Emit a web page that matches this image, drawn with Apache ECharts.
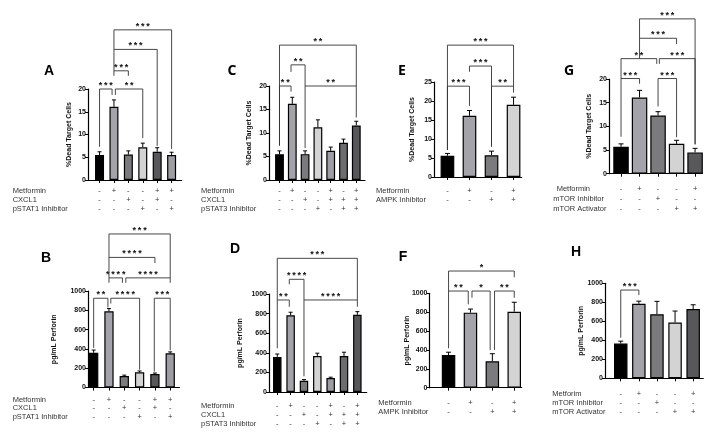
<!DOCTYPE html>
<html><head><meta charset="utf-8">
<script src="https://cdn.jsdelivr.net/npm/echarts@6/dist/echarts.min.js"></script>
<style>html,body{margin:0;padding:0;background:#fff}#c{width:728px;height:435px}</style>
</head><body><div id="c"></div>
<script>
// ---------------- DATA ----------------
const pctTicks = [0, 5, 10, 15, 20];
const pctTicksE = [0, 5, 10, 15, 20, 25];
const perfTicks = [0, 200, 400, 600, 800, 1000];
const pctName = '%Dead Target Cells';
const perfName = 'pg/mL Perforin';

const stat1Rows = ['Metformin', 'CXCL1', 'pSTAT1 Inhibitor'];
const stat1Signs = [['-','+','-','-','+','+'], ['-','-','+','-','+','-'], ['-','-','-','+','-','+']];
const stat3Rows = ['Metformin', 'CXCL1', 'pSTAT3 Inhibitor'];
const stat3Signs = [['-','+','-','-','+','-','+'], ['-','-','+','-','+','+','+'], ['-','-','-','+','-','+','+']];
const ampkRows = ['Metformin', 'AMPK Inhibitor'];
const ampkSigns = [['-','+','-','+'], ['-','-','+','+']];
const mtorRowsG = ['Metformin', 'mTOR Inhibitor', 'mTOR Activator'];
const mtorRowsH = ['Metforim', 'mTOR Inhibitor', 'mTOR Activator'];
const mtorSigns = [['-','+','-','-','+'], ['-','-','+','-','-'], ['-','-','-','+','+']];

const A_values = [5.5, 16.1, 5.6, 7.2, 6.2, 5.5];
const A_errors = [0.7, 1.5, 0.8, 0.9, 0.9, 0.6];
const B_values = [360, 790, 118, 157, 140, 354];
const B_errors = [28, 28, 10, 14, 10, 15];
const C_values = [5.5, 16.2, 5.5, 11.2, 6.2, 7.9, 11.6];
const C_errors = [0.7, 1.4, 0.7, 1.6, 0.8, 0.8, 0.9];
const D_values = [358, 782, 115, 368, 143, 368, 788];
const D_errors = [30, 32, 12, 28, 8, 38, 32];
const E_values = [5.6, 16.1, 5.7, 19.0];
const E_errors = [0.6, 1.4, 1.1, 2.0];
const F_values = [346, 795, 280, 805];
const F_errors = [30, 38, 80, 100];
const G_values = [5.7, 16.1, 12.3, 6.3, 4.5];
const G_errors = [0.6, 1.5, 0.8, 0.75, 0.85];
const H_values = [366, 784, 675, 588, 729];
const H_errors = [25, 28, 135, 120, 45];

// significance brackets: [from, to, level, leftFoot, rightFoot, label]
const A_brackets = [[0,0.87,20,7.3,18.7,'***'],[1.1,3,20,18.7,9.2,'**'],[1,2,24,22.9,22.9,'***'],[1,4,28.7,24,7.5,'***'],[1,5,33,28.7,6.8,'***']];
const B_brackets = [[0,0.93,925,410,830,'**'],[1.12,3,925,870,185,'****'],[3.96,5,925,165,385,'***'],[1,1.88,1136,1085,1085,'****'],[2.1,5,1136,1085,1085,'****'],[1,4,1348,1136,1290,'****'],[1,5,1591,1348,1136,'***']];
const C_brackets = [[0,0.9,20,7.3,18.8,'**'],[2,6,20,6.8,13.3,'**'],[0.9,2,24.5,23.0,20,'**'],[0,6,28.7,7.3,20,'**']];
const D_brackets = [[0,0.9,939,446,870,'**'],[2,6,939,160,870,'****'],[0.9,2,1150,1099,939,'****'],[0,6,1364,939,939,'***']];
const E_brackets = [[0,1,23.9,7.1,18.7,'***'],[2,3,23.9,8.0,22.2,'**'],[1,2,29.2,27.7,8.0,'***'],[0,3,34.7,7.1,23.9,'***']];
const F_brackets = [[0,0.9,1024,417,883,'**'],[1.07,1.9,1024,953,400,'*'],[2.1,3,1024,400,953,'**'],[0,3,1236,1024,1170,'*']];
const G_brackets = [[0,1,20.1,7.8,19,'***'],[2,3,20.1,14.2,7.7,'***'],[0,1.93,24.3,20.1,23.2,'**'],[2.07,4,24.3,23.2,6.2,'***'],[1,3,28.6,24.3,27.4,'***'],[1,4,32.7,28.6,6.2,'***']];
const H_brackets = [[0,1,929,427,876,'***']];

// ---------------- LAYOUT / STYLE ----------------
const FONT = '"Liberation Sans", Arial, Helvetica, sans-serif';
const K='#000000', G2='#a3a3a9', G3='#7b7b7d', G4='#d3d3d3', G5='#58585a', G6='#9d9da3', G7='#6c6c6e';

const panels = [
 {letter:'A', values:A_values, errors:A_errors, brackets:A_brackets, rows:stat1Rows, signs:stat1Signs, ticks:pctTicks, yName:pctName,
  colors:[K,G2,G3,G4,G5,G6], L:{left:88, top:89, width:93.7, height:91, xmin:-0.8, xmax:5.7, barW:9, cap:4, lh:9.3, margin:6, rowX:[12.7], letterXY:[49,71], nameX:69}},
 {letter:'B', values:B_values, errors:B_errors, brackets:B_brackets, rows:stat1Rows, signs:stat1Signs, ticks:perfTicks, yName:perfName,
  colors:[K,G2,G3,G4,G5,G6], L:{left:88, top:291, width:91.4, height:96.5, xmin:-0.37, xmax:5.6, barW:9.3, cap:4, lh:8.4, margin:8.3, rowX:[12.7], letterXY:[46,258], nameX:54}},
 {letter:'C', values:C_values, errors:C_errors, brackets:C_brackets, rows:stat3Rows, signs:stat3Signs, ticks:pctTicks, yName:pctName,
  colors:[K,G2,G3,G4,G6,G7,G5], L:{left:269, top:86, width:96, height:94, xmin:-0.82, xmax:6.68, barW:8.8, cap:4, lh:9.3, margin:6, rowX:[201], letterXY:[232,71], nameX:249}},
 {letter:'D', values:D_values, errors:D_errors, brackets:D_brackets, rows:stat3Rows, signs:stat3Signs, ticks:perfTicks, yName:perfName,
  colors:[K,G2,G3,G4,G6,G7,G5], L:{left:269, top:294, width:97.7, height:98, xmin:-0.62, xmax:6.7, barW:8.5, cap:4, lh:9.2, margin:9.4, rowX:[201], letterXY:[235,249], nameX:240}},
 {letter:'E', values:E_values, errors:E_errors, brackets:E_brackets, rows:ampkRows, signs:ampkSigns, ticks:pctTicksE, yName:pctName,
  colors:[K,G2,G3,G4], L:{left:434, top:82, width:87.7, height:95, xmin:-0.61, xmax:3.37, barW:13.7, cap:5, lh:9, margin:9.5, rowX:[376], letterXY:[402,71], nameX:411.7}},
 {letter:'F', values:F_values, errors:F_errors, brackets:F_brackets, rows:ampkRows, signs:ampkSigns, ticks:perfTicks, yName:perfName,
  colors:[K,G2,G3,G4], L:{left:429.5, top:293.3, width:92.2, height:94.4, xmin:-0.87, xmax:3.34, barW:13.5, cap:5, lh:9.6, margin:10.2, rowX:[378.3], letterXY:[403,257], nameX:407}},
 {letter:'G', values:G_values, errors:G_errors, brackets:G_brackets, rows:mtorRowsG, signs:mtorSigns, ticks:pctTicks, yName:pctName,
  colors:[K,G2,G3,G4,G5], L:{left:609, top:79, width:93.3, height:94.7, xmin:-0.65, xmax:4.39, barW:15.5, cap:5, lh:10, margin:10.6, rowX:[556.7,553.3,553.3], letterXY:[569,71], nameX:588.7}},
 {letter:'H', values:H_values, errors:H_errors, brackets:H_brackets, rows:mtorRowsH, signs:mtorSigns, ticks:perfTicks, yName:perfName,
  colors:[K,G2,G3,G4,G5], L:{left:605, top:283.3, width:98.3, height:95, xmin:-0.87, xmax:4.56, barW:13.5, cap:5, lh:8.85, margin:11.3, rowX:[552.3], letterXY:[576,252], nameX:581}}
];

const grids = [], xAxes = [], yAxes = [], series = [], texts = [];
const spacedStars = s => s.split('').join('\u2009');

panels.forEach((p, idx) => {
  const L = p.L;
  const idxs = p.values.map((_, i) => i);
  grids.push({left:L.left, top:L.top, width:L.width, height:L.height, containLabel:false, outerBoundsMode:'none'});
  xAxes.push({
    gridIndex: idx, type: 'value', min: L.xmin, max: L.xmax, splitLine: {show: false},
    axisLine: {show: true, onZero: false, lineStyle: {color: '#000', width: 1.2}},
    axisTick: {show: true, customValues: idxs, length: 3, lineStyle: {color: '#000', width: 1}},
    axisLabel: {show: true, customValues: idxs, interval: 0,
      formatter: v => p.signs.map(r => r[Math.round(v)]).join('\n'),
      fontSize: 7.5, lineHeight: L.lh, margin: L.margin, color: '#333', fontFamily: FONT}
  });
  const t = p.ticks;
  yAxes.push({
    gridIndex: idx, type: 'value', min: t[0], max: t[t.length - 1], interval: t[1] - t[0],
    splitLine: {show: false},
    axisLine: {show: true, onZero: false, lineStyle: {color: '#000', width: 1.2}},
    axisTick: {show: true, length: 3, lineStyle: {color: '#000', width: 1}},
    axisLabel: {fontSize: 7, fontWeight: 'bold', color: '#111', margin: 2, fontFamily: FONT, formatter: v => String(v)}
  });
  series.push({
    type: 'bar', xAxisIndex: idx, yAxisIndex: idx, barWidth: L.barW, z: 2,
    data: p.values.map((v, i) => ({value: [i, v], itemStyle: {color: p.colors[i], borderColor: '#000', borderWidth: 1.2}}))
  });
  series.push({
    type: 'custom', xAxisIndex: idx, yAxisIndex: idx, z: 3, clip: false,
    data: p.values.map((v, i) => [i, v, v + p.errors[i]]),
    renderItem: (params, api) => {
      const a = api.coord([api.value(0), api.value(1)]);
      const b = api.coord([api.value(0), api.value(2)]);
      const hw = L.cap / 2;
      return {type: 'group', children: [
        {type: 'line', shape: {x1: a[0], y1: a[1], x2: b[0], y2: b[1]}, style: {stroke: '#000', lineWidth: 1}},
        {type: 'line', shape: {x1: b[0] - hw, y1: b[1], x2: b[0] + hw, y2: b[1]}, style: {stroke: '#000', lineWidth: 1}}
      ]};
    }
  });
  series.push({
    type: 'custom', xAxisIndex: idx, yAxisIndex: idx, z: 4, clip: false,
    data: p.brackets.map(b => b.slice(0, 5)),
    renderItem: (params, api) => {
      const x1 = api.value(0), x2 = api.value(1), lv = api.value(2), f1 = api.value(3), f2 = api.value(4);
      const p1 = api.coord([x1, lv]), p2 = api.coord([x2, lv]);
      const q1 = api.coord([x1, f1]), q2 = api.coord([x2, f2]);
      const lab = spacedStars(p.brackets[params.dataIndex][5]);
      return {type: 'group', children: [
        {type: 'polyline', shape: {points: [q1, p1, p2, q2]}, style: {stroke: '#333', lineWidth: 0.9, fill: null}},
        {type: 'text', x: (p1[0] + p2[0]) / 2, y: p1[1] + 1,
         style: {text: lab, fontSize: 9, fontWeight: 'bold', fontFamily: FONT, fill: '#111', align: 'center', verticalAlign: 'bottom', textAlign: 'center', textVerticalAlign: 'bottom'}}
      ]};
    }
  });
  const letterFont = (p.letter === 'C' || p.letter === 'E' || p.letter === 'G') ? '"Open Sans", ' + FONT : FONT;
  texts.push({type: 'text', x: L.letterXY[0], y: L.letterXY[1],
    style: {text: p.letter, fontSize: 14, fontWeight: 'bold', fontFamily: letterFont, fill: '#000', align: 'center', verticalAlign: 'middle', textAlign: 'center', textVerticalAlign: 'middle'}});
  texts.push({type: 'text', x: L.nameX, y: L.top + L.height / 2, rotation: Math.PI / 2,
    style: {text: p.yName, fontSize: 7, fontWeight: 'bold', fontFamily: FONT, fill: '#111', align: 'center', verticalAlign: 'middle', textAlign: 'center', textVerticalAlign: 'middle'}});
  p.rows.forEach((r, ri) => {
    const rx = L.rowX[ri] !== undefined ? L.rowX[ri] : L.rowX[0];
    texts.push({type: 'text', x: rx, y: L.top + L.height + L.margin + L.lh * (ri + 0.5),
      style: {text: r, fontSize: 7.5, fontFamily: FONT, fill: '#333', align: 'left', verticalAlign: 'middle', textAlign: 'left', textVerticalAlign: 'middle'}});
  });
});

const chart = echarts.init(document.getElementById('c'), null, {renderer: 'canvas'});
chart.setOption({
  animation: false,
  backgroundColor: '#fff',
  grid: grids, xAxis: xAxes, yAxis: yAxes, series: series,
  graphic: {elements: texts}
});
</script></body></html>
